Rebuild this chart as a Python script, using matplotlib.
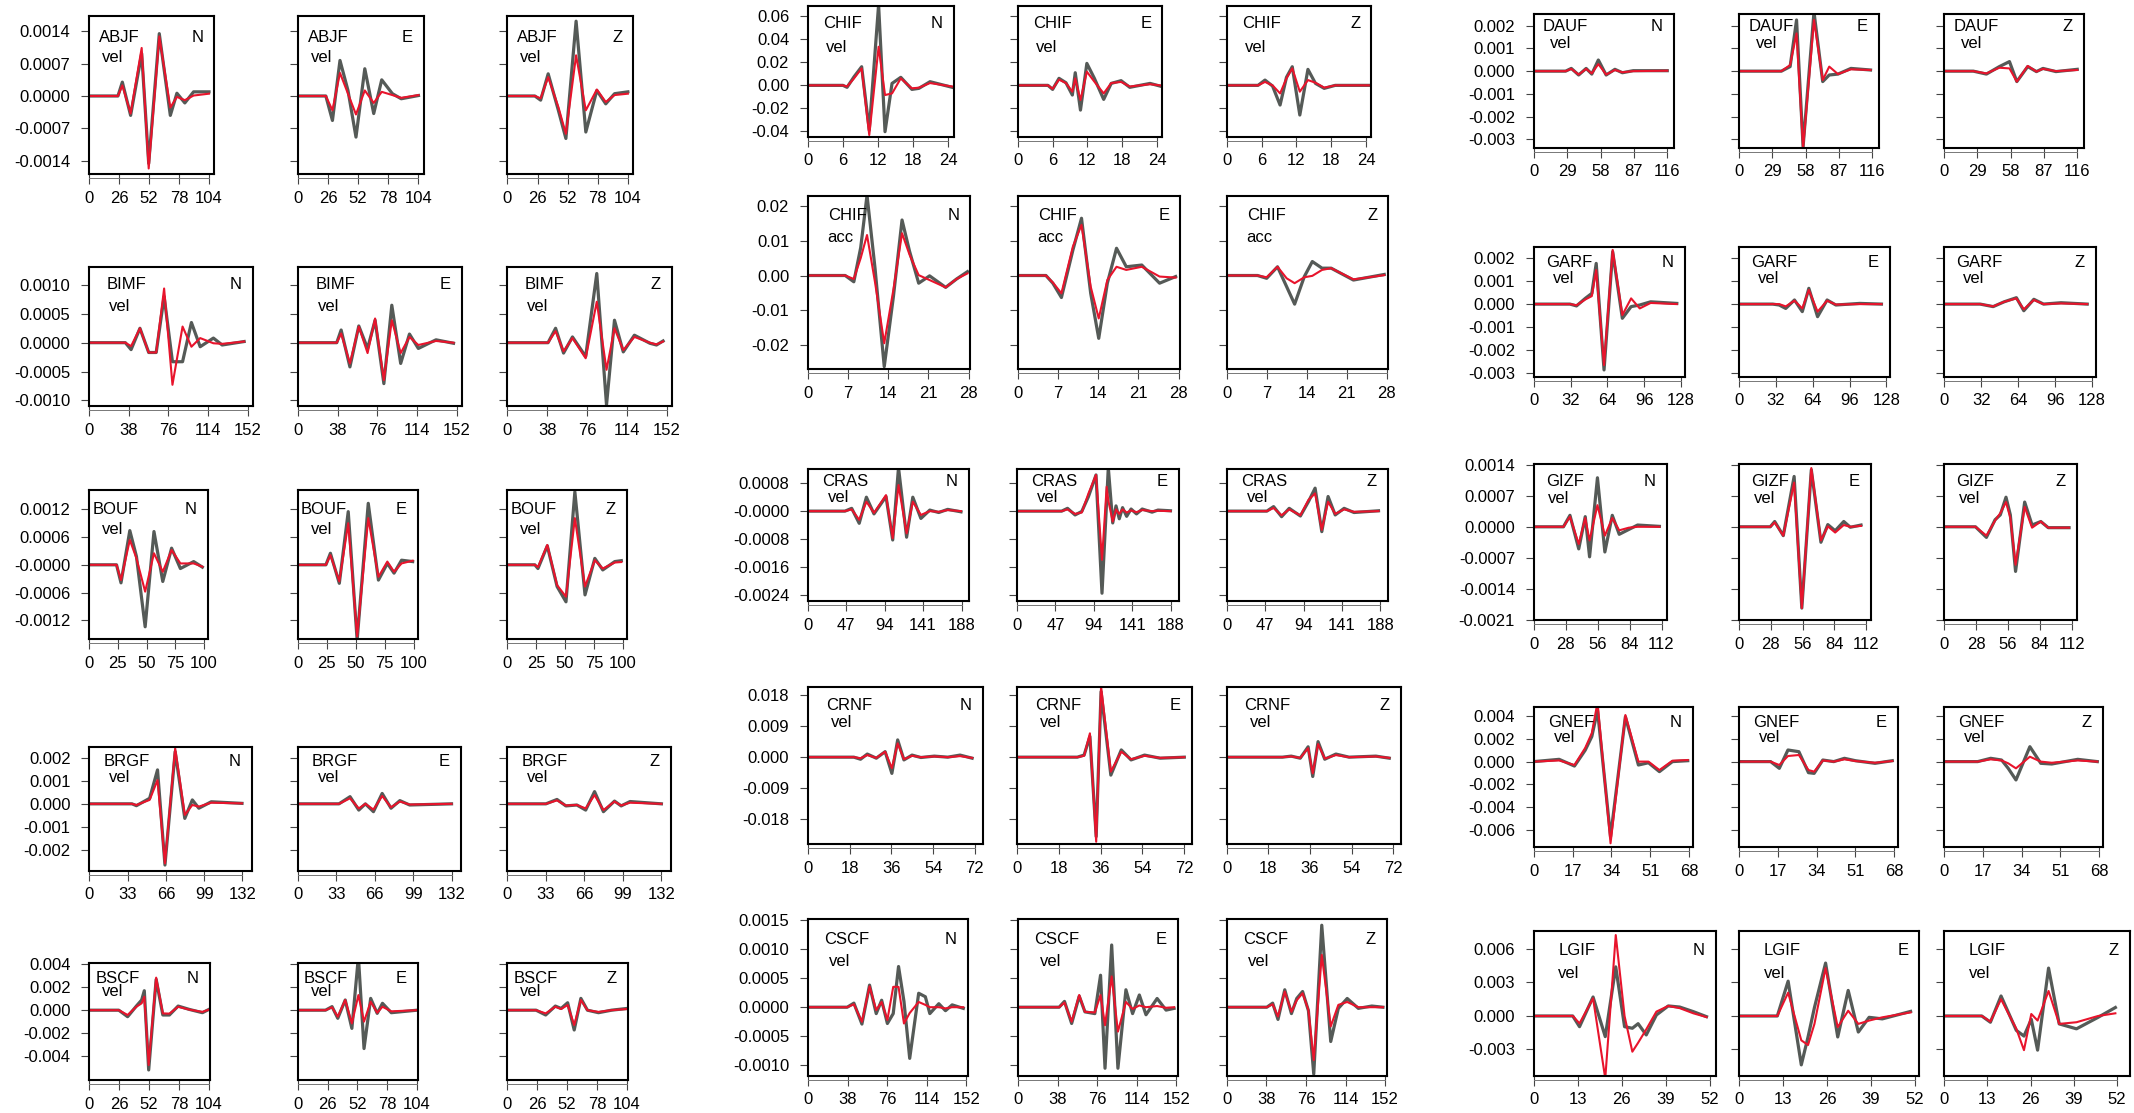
import matplotlib
matplotlib.use("Agg")
import matplotlib.pyplot as plt
from matplotlib.transforms import offset_copy

# --- Config ---
W, H, DPI = 2134, 1113, 100
OBS_COLOR = "#555a57"
SYN_COLOR = "#e8142c"
COMPS = ["N", "E", "Z"]
plt.rcParams["font.family"] = ["Liberation Sans", "DejaVu Sans"]

# --- Waveforms: time (s), observed (grey) and synthetic (red), amplitudes in row unit ---
ABJF_T = {"N": [0, 24.9, 28.7, 35.9, 45.5, 51.6, 60.8, 70.4, 76.1, 83.0, 90.6, 104],
          "E": [0, 24.1, 29.8, 36.3, 43.2, 50.1, 57.7, 65.4, 72.3, 81.5, 89.1, 104],
          "Z": [0, 23.7, 28.7, 35.2, 44.0, 50.5, 59.3, 67.7, 77.2, 84.9, 92.5, 104]}
ABJF_OBS = {"N": [0, 0, 3.0, -4.2, 9.2, -14.6, 13.5, -4.2, 0.6, -1.5, 0.9, 0.9],
            "E": [0, 0, -5.3, 7.7, 1.2, -8.9, 5.9, -3.8, 3.5, 0.5, -0.6, 0.1],
            "Z": [0, 0, -0.9, 4.8, -3.1, -9.2, 16.2, -7.8, 1.2, -1.7, 0.5, 0.9]}
ABJF_SYN = {"N": [0, 0, 2.3, -3.8, 10.4, -15.7, 12.9, -2.5, -0.2, -0.9, 0.1, 0.5],
            "E": [0, 0, -3.1, 5.0, 0.5, -4.0, 1.2, -1.5, 0.9, 0.2, -0.4, 0.2],
            "Z": [0, 0, -0.5, 4.1, -2.4, -8.2, 8.8, -3.1, 1.4, -1.3, 0.2, 0.5]}

BIMF_T = {"N": [0, 34.6, 40.1, 48.6, 57.0, 64.2, 71.8, 79.8, 89.5, 98.0, 106.4, 119.1, 127.5, 148.6],
          "E": [0, 37.2, 41.4, 49.8, 58.3, 66.7, 73.9, 82.3, 89.9, 98.4, 106.8, 115.3, 132.2, 149.0],
          "Z": [0, 38.8, 46.0, 53.6, 62.1, 74.7, 85.3, 94.6, 102.2, 110.6, 121.2, 136.0, 142.3, 148.6]}
BIMF_OBS = {"N": [0, 0, -1.2, 2.5, -1.7, -1.7, 8.0, -3.3, -3.3, 3.5, -0.7, 0.8, -0.4, 0.2],
            "E": [0, 0, 2.2, -4.2, 2.9, -1.0, 3.9, -7.1, 6.5, -3.6, 1.5, -1.0, 0.5, -0.1],
            "Z": [0, 0, 2.5, -1.8, 1.0, -2.4, 12.0, -10.8, 3.9, -1.6, 1.3, -0.1, -0.4, 0.3]}
BIMF_SYN = {"N": [0, 0, -0.6, 2.5, -1.7, -1.7, 9.4, -7.3, 2.8, -0.7, 0.8, -0.1, -0.2, 0.2],
            "E": [0, 0, 1.6, -3.6, 2.8, -1.8, 4.2, -6.5, 3.9, -1.8, 1.0, -0.4, 0.3, 0],
            "Z": [0, 0, 2.0, -1.5, 0.8, -2.7, 7.1, -4.7, 2.5, -1.3, 1.0, 0, -0.3, 0.2]}

BOUF_T = {"N": [0, 23.8, 27.7, 35.4, 41.2, 48.8, 56.5, 64.2, 71.9, 79.6, 91.2, 98.8],
          "E": [0, 24.2, 28.1, 35.8, 43.5, 51.2, 60.8, 69.6, 77.3, 83.1, 89.6, 99.2],
          "Z": [0, 23.8, 26.5, 34.6, 43.1, 50.8, 58.5, 67.3, 75.8, 82.7, 93.1, 98.8]}
BOUF_OBS = {"N": [0, 0, -3.9, 7.4, 1.8, -13.4, 7.2, -3.6, 3.6, -0.8, 0.7, -0.5],
            "E": [0, 0, 2.5, -4.0, 11.5, -16.3, 13.3, -3.3, 0.3, -1.8, 1.0, 0.7],
            "Z": [0, 0, -0.8, 4.1, -4.7, -8.0, 15.8, -6.5, 1.4, -1.1, 0.7, 0.9]}
BOUF_SYN = {"N": [0, 0, -3.3, 5.4, 1.4, -5.8, 2.5, -1.5, 3.2, 0.3, 0.3, -0.4],
            "E": [0, 0, 2.1, -3.6, 9.0, -15.5, 10.1, -2.6, 0.7, -1.5, 0.3, 0.9],
            "Z": [0, 0, -0.5, 4.3, -4.4, -6.9, 10.1, -4.7, 1.0, -0.8, 0.5, 0.6]}

BRGF_T = {"N": [0, 36.8, 40.6, 52.0, 58.8, 65.2, 74.0, 82.3, 88.8, 94.4, 105.1, 131.6],
          "E": [0, 35.3, 44.8, 52.3, 58.0, 64.9, 72.4, 80.0, 87.6, 96.0, 132],
          "Z": [0, 33.0, 42.5, 50.1, 59.5, 67.1, 74.7, 82.3, 91.8, 97.5, 105.1, 132]}
BRGF_OBS = {"N": [0, 0, -0.08, 0.24, 1.47, -2.65, 2.26, -0.63, 0.17, -0.19, 0.09, 0.02],
            "E": [0, 0, 0.31, -0.27, 0, -0.34, 0.45, -0.19, 0.14, -0.05, 0],
            "Z": [0, 0, 0.19, -0.09, -0.05, -0.27, 0.53, -0.34, 0.12, -0.09, 0.1, 0]}
BRGF_SYN = {"N": [0, 0, -0.05, 0.17, 1.03, -2.58, 2.40, -0.48, -0.05, -0.12, 0.05, 0.02],
            "E": [0, 0, 0.24, -0.2, 0, -0.25, 0.34, -0.15, 0.1, -0.03, 0],
            "Z": [0, 0, 0.15, -0.07, -0.05, -0.2, 0.38, -0.27, 0.1, -0.07, 0.05, 0]}

BSCF_T = {"N": [0, 25.6, 33.3, 40.9, 45.5, 47.8, 51.6, 58.1, 63.9, 69.6, 77.2, 86.8, 98.3, 104],
          "E": [0, 24.1, 29.8, 34.8, 41.3, 47.1, 52.8, 57.7, 63.5, 69.2, 73.8, 81.5, 104],
          "Z": [0, 24.9, 33.3, 41.7, 46.7, 52.4, 58.1, 63.9, 69.6, 79.2, 90.6, 104]}
BSCF_OBS = {"N": [0, 0, -0.57, 0.36, 0.89, 1.70, -5.22, 2.69, -0.42, -0.42, 0.36, 0.07, -0.22, 0.07],
            "E": [0, 0, 0.31, -0.71, 0.89, -1.59, 4.67, -3.35, 1.03, -0.28, 0.6, -0.22, 0],
            "Z": [0, 0, -0.42, 0.36, 0.15, 0.65, -1.73, 1.03, 0, -0.22, 0, 0.15]}
BSCF_SYN = {"N": [0, 0, -0.42, 0.3, 0.6, 1.18, -4.79, 2.84, -0.28, -0.3, 0.3, 0.05, -0.15, 0.05],
            "E": [0, 0, 0.25, -0.57, 0.89, -1.15, 1.32, -1.0, 0.74, -0.22, 0.3, -0.1, 0],
            "Z": [0, 0, -0.28, 0.3, 0.1, 0.45, -1.3, 0.89, 0, -0.15, 0, 0.1]}

CHIFV_T = {"N": [0, 6.0, 6.7, 7.9, 9.2, 10.5, 12.1, 13.2, 14.4, 15.9, 17.8, 19.0, 20.9, 24.7],
           "E": [0, 5.2, 6.0, 7.1, 8.3, 9.4, 9.9, 10.8, 11.9, 13.2, 14.8, 16.1, 17.8, 19.3, 22.8, 24.5],
           "Z": [0, 5.4, 6.6, 7.9, 9.2, 10.3, 11.3, 12.6, 14.0, 15.3, 16.8, 18.7, 24.5]}
CHIFV_OBS = {"N": [0, 0, -0.17, 0.75, 1.62, -3.9, 7.0, -4.03, 0.17, 0.7, -0.35, -0.26, 0.32, -0.17],
             "E": [0, 0, -0.35, 0.61, 0.23, -0.84, 1.10, -2.15, 1.91, 0.61, -1.22, 0.17, 0.41, -0.17, 0.17, -0.06],
             "Z": [0, 0, 0.46, -0.06, -1.71, 0.70, 1.62, -2.58, 1.39, 0.17, -0.26, 0, 0]}
CHIFV_SYN = {"N": [0, 0, -0.1, 0.61, 1.48, -4.32, 3.36, -0.84, -0.7, 0.61, -0.26, -0.2, 0.2, -0.1],
             "E": [0, 0, -0.3, 0.5, 0.2, -0.55, 0.61, -1.28, 1.19, 0.32, -0.7, 0.2, 0.3, -0.1, 0.1, 0],
             "Z": [0, 0, 0.3, 0, -0.70, 0.61, 1.48, -0.55, 0.46, 0.23, -0.2, 0, 0]}

CHIFA_T = {"N": [0, 6.5, 8.0, 9.2, 10.3, 11.7, 13.3, 14.9, 16.4, 17.7, 19.3, 21.2, 24.0, 25.9, 27.8],
           "E": [0, 4.9, 6.1, 7.6, 9.6, 11.1, 12.7, 14.1, 15.6, 17.2, 18.9, 21.6, 24.7, 27.5],
           "Z": [0, 5.4, 7.0, 8.9, 10.5, 11.9, 13.6, 15.0, 16.7, 18.3, 22.2, 27.6]}
CHIFA_OBS = {"N": [0, 0, -0.18, 0.8, 2.3, 0.2, -2.61, -0.6, 1.59, 0.7, -0.22, -0.01, -0.34, -0.1, 0.11],
             "E": [0, 0, -0.22, -0.63, 0.73, 1.64, -0.51, -1.80, -0.22, 0.78, 0.25, 0.30, -0.22, -0.03],
             "Z": [0, 0, -0.08, 0.25, -0.32, -0.82, -0.03, 0.40, 0.21, 0.21, -0.13, 0.03]}
CHIFA_SYN = {"N": [0, 0, -0.1, 0.5, 1.16, -0.2, -1.94, -0.4, 1.21, 0.6, 0.01, -0.13, -0.34, -0.1, 0.06],
             "E": [0, 0, -0.2, -0.51, 0.83, 1.45, -0.32, -1.23, -0.13, 0.25, 0.16, 0.25, -0.03, -0.06],
             "Z": [0, 0, -0.05, 0.25, -0.08, -0.22, -0.05, -0.01, 0.16, 0.21, -0.11, 0.01]}

CRAS_T = {"N": [0, 45.4, 53.6, 62.8, 71.6, 80.9, 95.6, 103.8, 110.9, 120.8, 128.4, 138.3, 149.2, 160.1, 171.1, 187.4],
          "E": [0, 54.7, 61.8, 71.0, 79.2, 87.4, 96.6, 103.9, 109.6, 111.6, 117.0, 121.0, 125.0, 129.0,
                134.0, 139.4, 146.0, 153.0, 165.0, 172.2, 187.5],
          "Z": [0, 49.2, 57.4, 67.2, 76.5, 90.2, 100.0, 108.2, 116.4, 124.1, 132.8, 143.7, 155.8, 185.8]}
CRAS_OBS = {"N": [0, 0, 0.8, -3.5, 4.0, -0.8, 4.2, -8.3, 12.5, -7.5, 4.0, -2.1, 0.3, -0.4, 0.5, -0.2],
            "E": [0, 0, 0.8, -1.1, -0.1, 4.2, 10.4, -23.6, 3.0, 12.5, -3.4, 1.5, -2.2, 1.0,
                  -1.5, 0.6, -0.8, 0.6, -0.3, 0.3, 0.1],
            "Z": [0, 0, 1.3, -1.6, 0.8, -1.4, 2.7, 6.6, -5.9, 4.2, -1.1, 0.8, -0.4, 0.1]}
CRAS_SYN = {"N": [0, 0, 0.5, -2.5, 2.7, -0.5, 4.6, -7.8, 7.5, -6.4, 2.7, -1.1, 0, -0.2, 0.3, 0],
            "E": [0, 0, 0.5, -0.8, -0.4, 5.1, 10.4, -14.0, 7.0, 3.0, -3.0, 0.5, -0.8, 0.5,
                  -0.4, 0.2, -0.3, 0.3, 0, 0.1, 0],
            "Z": [0, 0, 0.9, -1.2, 0.5, -1.2, 3.2, 5.1, -5.4, 2.7, -0.8, 0.5, -0.2, 0]}

CRNF_T = {"N": [0, 19.8, 22.7, 25.6, 29.5, 33.3, 36.2, 38.7, 41.4, 44.9, 48.7, 54.5, 60.3, 65.6, 70.8],
          "E": [0, 26.0, 28.9, 31.4, 34.1, 36.2, 40.4, 44.9, 49.1, 54.9, 61.6, 72],
          "Z": [0, 24.1, 27.9, 31.8, 35.2, 37.2, 39.5, 42.4, 47.2, 52.9, 64.5, 70.3]}
CRNF_OBS = {"N": [0, 0, -0.6, 0.9, -0.3, 1.6, -4.7, 5.0, -0.8, 0.6, -0.1, 0.3, 0, 0.6, -0.3],
            "E": [0, 0, 0.6, 6.0, -23.0, 19.0, -5.2, 2.1, -0.8, 0.6, -0.3, 0],
            "Z": [0, 0, 0.3, -0.3, 3.0, -5.6, 4.5, -0.6, 0.9, 0, 0.3, -0.3]}
CRNF_SYN = {"N": [0, 0, -0.3, 0.6, -0.2, 1.6, -3.2, 4.0, -0.6, 0.4, 0, 0.2, 0, 0.3, -0.2],
            "E": [0, 0, 0.4, 6.9, -24.5, 20.5, -4.2, 1.6, -0.6, 0.4, -0.2, 0],
            "Z": [0, 0, 0.2, -0.2, 2.6, -4.7, 3.8, -0.4, 0.6, 0, 0.2, -0.2]}

CSCF_T = {"N": [0, 37.7, 44.1, 51.8, 59.1, 65.5, 70.7, 76.2, 81.8, 86.9, 92.1, 97.6, 106.2, 112.6, 116.9,
                125.5, 131.9, 138.3, 149.0],
          "E": [0, 39.4, 44.5, 51.4, 58.7, 64.2, 73.7, 79.2, 83.5, 89.9, 95.9, 103.6, 110.0, 116.5, 122.9,
                133.6, 142.2, 149.9],
          "Z": [0, 38.5, 44.1, 49.2, 55.7, 62.1, 67.2, 72.8, 78.4, 83.5, 91.2, 99.8, 107.1, 115.6, 126.3,
                139.2, 149.9]}
CSCF_OBS = {"N": [0, 0, 0.7, -2.9, 3.8, -1.1, 1.2, -2.8, -1.1, 7.0, 1.0, -8.8, 2.4, 1.8, -1.1, 0.6, -0.6, 0.4, -0.2],
            "E": [0, 0, 1.0, -2.8, 1.9, -0.8, -1.1, 5.5, -10.5, 10.7, -10.5, 3.0, -1.1, 2.1, -1.3, 1.5, -0.5, -0.2],
            "Z": [0, 0, 0.7, -2.1, 3.0, -1.1, 1.5, 2.7, -0.6, -11.5, 14.1, -5.9, -0.2, 1.5, -0.2, 0.2, 0]}
CSCF_SYN = {"N": [0, 0, 0.5, -2.5, 3.6, -0.5, 0.9, -2.2, 3.5, 3.5, -2.8, -1.0, 0.9, 0.4, 0, 0, -0.2, 0, 0],
            "E": [0, 0, 0.8, -2.5, 2.1, -0.8, -0.9, 2.1, -3.1, 5.3, -4.2, 0.9, -0.3, 0.3, 0, 0.2, -0.1, 0],
            "Z": [0, 0, 0.5, -1.6, 2.7, -0.8, 1.2, 2.4, -0.5, -9.1, 9.0, -3.3, 0.4, 0.9, 0, 0, 0]}

DAUF_T = {"N": [0, 27.7, 32.6, 39.0, 45.5, 50.4, 56.1, 62.9, 70.5, 77.0, 86.4, 116],
          "E": [0, 36.8, 44.4, 50.0, 55.7, 65.2, 72.8, 78.5, 86.1, 97.4, 114.5],
          "Z": [0, 25.4, 36.8, 48.1, 56.9, 63.3, 72.8, 80.4, 86.1, 97.4, 116]}
DAUF_OBS = {"N": [0, 0, 0.12, -0.17, 0.12, -0.13, 0.49, -0.17, 0.08, -0.07, 0.02, 0.02],
            "E": [0, 0, 0.2, 2.25, -3.32, 2.6, -0.46, -0.17, -0.13, 0.12, 0.05],
            "Z": [0, 0, -0.13, 0.2, 0.42, -0.46, 0.2, -0.02, 0.12, -0.02, 0.08]}
DAUF_SYN = {"N": [0, 0, 0.1, -0.15, 0.1, -0.1, 0.31, -0.15, 0.05, -0.05, 0, 0.02],
            "E": [0, 0, 0.27, 1.66, -3.4, 2.25, -0.39, 0.2, -0.13, 0.08, 0.05],
            "Z": [0, 0, -0.1, 0.15, 0.12, -0.46, 0.23, -0.02, 0.1, 0, 0.05]}

GARF_T = {"N": [0, 31.4, 37.1, 44.7, 50.4, 54.2, 61.0, 68.5, 76.9, 84.5, 92.0, 101.5, 124.2],
          "E": [0, 29.2, 34.8, 40.5, 48.1, 54.9, 60.6, 68.2, 76.5, 84.1, 104.9, 123.8],
          "Z": [0, 31.1, 42.4, 51.9, 62.5, 68.9, 77.6, 86.0, 101.1, 123.8]}
GARF_OBS = {"N": [0, 0, -0.08, 0.25, 0.47, 1.78, -2.88, 2.29, -0.62, -0.11, -0.04, 0.1, 0.03],
            "E": [0, 0, -0.04, -0.19, 0.18, -0.33, 0.69, -0.55, 0.18, -0.04, 0.03, 0],
            "Z": [0, 0, -0.11, 0.1, 0.28, -0.29, 0.21, 0, 0.06, 0]}
GARF_SYN = {"N": [0, 0, -0.05, 0.2, 0.35, 1.49, -2.67, 2.37, -0.48, 0.25, -0.19, 0.05, 0],
            "E": [0, 0, 0, -0.1, 0.15, -0.19, 0.62, -0.33, 0.15, -0.02, 0, 0],
            "Z": [0, 0, -0.1, 0.1, 0.25, -0.23, 0.18, 0, 0.03, 0]}

GIZF_T = {"N": [0, 26.0, 31.7, 39.4, 45.1, 48.9, 55.8, 62.3, 68.8, 74.9, 83.3, 91.0, 110.1],
          "E": [0, 27.5, 31.4, 39.0, 48.6, 55.4, 63.8, 72.3, 78.4, 84.9, 92.5, 98.3, 107.8],
          "Z": [0, 27.5, 37.1, 44.7, 49.3, 54.3, 58.1, 62.7, 70.7, 77.2, 84.9, 91.4, 109.7]}
GIZF_OBS = {"N": [0, 0, 2.6, -5.0, 2.3, -6.8, 11.1, -5.7, 2.6, -1.7, -0.6, 0.4, 0.1],
            "E": [0, 0, 1.2, -2.0, 11.4, -18.4, 12.9, -3.5, 0.5, -0.9, 1.2, -0.1, 0.4],
            "Z": [0, 0, -2.4, 1.6, 2.7, 6.7, 2.7, -10.1, 5.6, 0.4, 1.2, -0.2, -0.2]}
GIZF_SYN = {"N": [0, 0, 2.3, -3.9, 2.0, -3.1, 4.9, -2.0, 2.0, -0.8, -0.2, 0, 0],
            "E": [0, 0, 1.0, -2.0, 10.0, -18.4, 13.3, -3.1, 0.1, -1.3, 0.4, 0, 0.2],
            "Z": [0, 0, -2.0, 1.4, 3.1, 5.6, 2.0, -8.6, 4.5, -0.2, 1.2, -0.2, -0.2]}

GNEF_T = {"N": [0, 11.1, 17.8, 22.5, 25.4, 27.9, 33.6, 40.1, 45.8, 50.2, 55.0, 60.7, 67.4],
          "E": [0, 13.8, 17.6, 21.4, 26.2, 30.4, 32.9, 36.7, 41.5, 46.2, 51.0, 59.6, 67.2],
          "Z": [0, 14.7, 20.4, 25.2, 28.1, 31.5, 37.6, 42.4, 47.2, 58.6, 67.2]}
GNEF_OBS = {"N": [0, 0.2, -0.39, 1.0, 2.2, 4.5, -6.6, 3.94, -0.3, -0.1, -0.88, 0, 0.08],
            "E": [0, 0, -0.59, 1.02, 0.87, -0.97, -1.03, 0.14, 0, 0.29, 0.08, -0.15, 0.08],
            "Z": [0, 0, 0.29, 0.14, -0.59, -1.61, 1.31, -0.15, -0.21, 0.2, 0]}
GNEF_SYN = {"N": [0, 0.1, -0.3, 1.2, 2.5, 5.2, -7.17, 4.09, 0, 0, -0.74, 0.08, 0.14],
            "E": [0, 0, -0.3, 0.49, 0.58, -0.74, -0.88, 0.1, 0, 0.2, 0.05, -0.1, 0.05],
            "Z": [0, 0, 0.2, 0.1, -0.15, -0.59, 0.43, 0, -0.1, 0.1, 0]}

LGIF_T = {"N": [0, 11.5, 13.5, 17.5, 21.1, 24.2, 26.8, 29.1, 30.8, 33.2, 36.2, 39.7, 43.1, 47.1, 51.0],
          "E": [0, 11.3, 14.5, 18.4, 20.4, 22.3, 25.6, 29.2, 32.3, 35.3, 38.5, 42.4, 50.8],
          "Z": [0, 11.3, 13.9, 17.1, 21.7, 24.0, 26.2, 28.1, 31.4, 34.6, 39.8, 46.3, 51.5]}
LGIF_OBS = {"N": [0, 0, -0.96, 1.7, -1.85, 4.4, -0.96, -1.1, -0.69, -1.7, 0.09, 0.9, 0.8, 0.39, -0.06],
            "E": [0, 0, 3.12, -4.38, -1.88, 0.76, 4.74, -1.88, 2.29, -1.44, -0.12, -0.26, 0.41],
            "Z": [0, 0, -0.56, 1.79, -1.29, -1.8, -0.3, -3.06, 4.29, -0.71, -1.15, -0.12, 0.76]}
LGIF_SYN = {"N": [0, 0, -0.66, 1.58, -5.6, 7.25, 0, -3.2, -2.4, -1.2, 0.39, 0.9, 0.7, 0.24, -0.1],
            "E": [0, 0, 2.09, -2.18, -2.6, -0.71, 4.29, -1.0, 0.47, -0.71, -0.41, -0.12, 0.32],
            "Z": [0, 0, -0.5, 1.5, -1.15, -3.06, 0.18, -0.41, 2.24, -0.71, -0.56, 0, 0.24]}

# --- Axis ticks per station row ---
XTICKS = {"ABJF": [0, 26, 52, 78, 104], "BIMF": [0, 38, 76, 114, 152], "BOUF": [0, 25, 50, 75, 100],
          "BRGF": [0, 33, 66, 99, 132], "BSCF": [0, 26, 52, 78, 104], "CHIFV": [0, 6, 12, 18, 24],
          "CHIFA": [0, 7, 14, 21, 28], "CRAS": [0, 47, 94, 141, 188], "CRNF": [0, 18, 36, 54, 72],
          "CSCF": [0, 38, 76, 114, 152], "DAUF": [0, 29, 58, 87, 116], "GARF": [0, 32, 64, 96, 128],
          "GIZF": [0, 28, 56, 84, 112], "GNEF": [0, 17, 34, 51, 68], "LGIF": [0, 13, 26, 39, 52]}
YTICKLABELS = {
    "ABJF": ["0.0014", "0.0007", "0.0000", "-0.0007", "-0.0014"],
    "BIMF": ["0.0010", "0.0005", "0.0000", "-0.0005", "-0.0010"],
    "BOUF": ["0.0012", "0.0006", "-0.0000", "-0.0006", "-0.0012"],
    "BRGF": ["0.002", "0.001", "0.000", "-0.001", "-0.002"],
    "BSCF": ["0.004", "0.002", "0.000", "-0.002", "-0.004"],
    "CHIFV": ["0.06", "0.04", "0.02", "0.00", "-0.02", "-0.04"],
    "CHIFA": ["0.02", "0.01", "0.00", "-0.01", "-0.02"],
    "CRAS": ["0.0008", "-0.0000", "-0.0008", "-0.0016", "-0.0024"],
    "CRNF": ["0.018", "0.009", "0.000", "-0.009", "-0.018"],
    "CSCF": ["0.0015", "0.0010", "0.0005", "0.0000", "-0.0005", "-0.0010"],
    "DAUF": ["0.002", "0.001", "0.000", "-0.001", "-0.002", "-0.003"],
    "GARF": ["0.002", "0.001", "0.000", "-0.001", "-0.002", "-0.003"],
    "GIZF": ["0.0014", "0.0007", "0.0000", "-0.0007", "-0.0014", "-0.0021"],
    "GNEF": ["0.004", "0.002", "0.000", "-0.002", "-0.004", "-0.006"],
    "LGIF": ["0.006", "0.003", "0.000", "-0.003"],
}

# row key -> (station, kind, unit, times, obs, syn)
ROWS = {
    "ABJF": ("ABJF", "vel", 1e-4, ABJF_T, ABJF_OBS, ABJF_SYN),
    "BIMF": ("BIMF", "vel", 1e-4, BIMF_T, BIMF_OBS, BIMF_SYN),
    "BOUF": ("BOUF", "vel", 1e-4, BOUF_T, BOUF_OBS, BOUF_SYN),
    "BRGF": ("BRGF", "vel", 1e-3, BRGF_T, BRGF_OBS, BRGF_SYN),
    "BSCF": ("BSCF", "vel", 1e-3, BSCF_T, BSCF_OBS, BSCF_SYN),
    "CHIFV": ("CHIF", "vel", 1e-2, CHIFV_T, CHIFV_OBS, CHIFV_SYN),
    "CHIFA": ("CHIF", "acc", 1e-2, CHIFA_T, CHIFA_OBS, CHIFA_SYN),
    "CRAS": ("CRAS", "vel", 1e-4, CRAS_T, CRAS_OBS, CRAS_SYN),
    "CRNF": ("CRNF", "vel", 1e-3, CRNF_T, CRNF_OBS, CRNF_SYN),
    "CSCF": ("CSCF", "vel", 1e-4, CSCF_T, CSCF_OBS, CSCF_SYN),
    "DAUF": ("DAUF", "vel", 1e-3, DAUF_T, DAUF_OBS, DAUF_SYN),
    "GARF": ("GARF", "vel", 1e-3, GARF_T, GARF_OBS, GARF_SYN),
    "GIZF": ("GIZF", "vel", 1e-4, GIZF_T, GIZF_OBS, GIZF_SYN),
    "GNEF": ("GNEF", "vel", 1e-3, GNEF_T, GNEF_OBS, GNEF_SYN),
    "LGIF": ("LGIF", "vel", 1e-3, LGIF_T, LGIF_OBS, LGIF_SYN),
}

# --- Layout (pixels): top, bottom, lefts, rights, x max per panel, y limits, label offsets ---
C1 = [89.3, 297.9, 507.4]
C2 = [807.9, 1017.8, 1226.7]
C3 = [1533.8, 1739.2, 1944.2]
LAYOUT = {
    "ABJF": dict(tb=(16, 174), l=C1, r=[214.3, 423.8, 633.2], xmax=[108.6] * 3, ylim=(-1.689e-3, 1.732e-3), lab=(9.7, 21, 12.8, 41)),
    "BIMF": dict(tb=(266.7, 406), l=C1, r=[253.0, 462.0, 672.0], xmax=[157.1] * 3, ylim=(-1.098e-3, 1.318e-3), lab=(17.6, 18.3, 19.8, 40)),
    "BOUF": dict(tb=(490, 639), l=C1, r=[208.1, 418.0, 627.1], xmax=[103.8] * 3, ylim=(-1.604e-3, 1.618e-3), lab=(3, 20, 12.8, 39)),
    "BRGF": dict(tb=(747.3, 870.7), l=C1, r=[252.1, 461.2, 671.1], xmax=[140.3] * 3, ylim=(-2.895e-3, 2.448e-3), lab=(14, 14.7, 19.8, 30.7)),
    "BSCF": dict(tb=(962.7, 1080), l=C1, r=[209.9, 418.0, 627.9], xmax=[104.8] * 3, ylim=(-6.095e-3, 4.145e-3), lab=(6, 15.6, 12.8, 28.6)),
    "CHIFV": dict(tb=(5.7, 136.7), l=C2, r=[953.5, 1162.4, 1371.3], xmax=[24.92] * 3, ylim=(-0.04464, 0.06928), lab=(15.6, 18.3, 17.9, 41.3)),
    "CHIFA": dict(tb=(195.7, 369), l=C2, r=[970.4, 1180.3, 1388.3], xmax=[28.31] * 3, ylim=(-0.02678, 0.02286), lab=(20, 20.3, 19.2, 41.6)),
    "CRAS": dict(tb=(469.3, 601.3), l=[807.9, 1016.9, 1226.7], r=[969.1, 1178.5, 1387.9], xmax=[197.3] * 3, ylim=(-2.592e-3, 1.202e-3), lab=(14.7, 12.5, 20, 28)),
    "CRNF": dict(tb=(686.7, 844.3), l=[807.9, 1016.9, 1226.7], r=[982.5, 1191.9, 1400.8], xmax=[75.27] * 3, ylim=(-0.02524, 0.02041), lab=(17.9, 18.3, 22.8, 36)),
    "CSCF": dict(tb=(919, 1075.7), l=[807.9, 1018.2, 1226.7], r=[967.8, 1177.6, 1386.5], xmax=[153.3] * 3, ylim=(-1.178e-3, 1.517e-3), lab=(16, 20.3, 21.4, 42.7)),
    "DAUF": dict(tb=(14, 147.7), l=C3, r=[1673.8, 1878.8, 2083.8], xmax=[121.7] * 3, ylim=(-3.367e-3, 2.513e-3), lab=(9.2, 12.7, 16.6, 29.3)),
    "GARF": dict(tb=(246.7, 376.7), l=C3, r=[1685.1, 1890.2, 2096.0], xmax=[131.4] * 3, ylim=(-3.175e-3, 2.51e-3), lab=(12.2, 15.6, 18.8, 31.6)),
    "GIZF": dict(tb=(464.3, 620), l=C3, r=[1666.8, 1871.0, 2076.9], xmax=[116.6] * 3, ylim=(-2.11e-3, 1.415e-3), lab=(12.2, 16.7, 14.4, 34)),
    "GNEF": dict(tb=(706.7, 847.3), l=C3, r=[1693.0, 1898.0, 2103.0], xmax=[69.7] * 3, ylim=(-7.52e-3, 4.819e-3), lab=(14.4, 16, 20, 31)),
    "LGIF": dict(tb=(930.7, 1075.7), l=C3, r=[1716.0, 1919.4, 2130.0], xmax=[53.8, 53.4, 55.9], ylim=(-5.35e-3, 7.64e-3), lab=(24.4, 19.3, 24.4, 42.6)),
}

fig = plt.figure(figsize=(W / DPI, H / DPI), dpi=DPI)
fig.patch.set_facecolor("white")

for key, (station, kind, unit, times, obs, syn) in ROWS.items():
    lay = LAYOUT[key]
    top, bot = lay["tb"]
    name_dx, name_dy, kind_dx, kind_dy = lay["lab"]
    yt_labels = YTICKLABELS[key]
    yt_values = [float(s) for s in yt_labels]
    for i, comp in enumerate(COMPS):
        left, right = lay["l"][i], lay["r"][i]
        wpx, hpx = right - left, bot - top
        ax = fig.add_axes([left / W, 1 - bot / H, wpx / W, hpx / H])
        ax.plot(times[comp], [v * unit for v in obs[comp]], color=OBS_COLOR, lw=2.3,
                solid_joinstyle="round")
        ax.plot(times[comp], [v * unit for v in syn[comp]], color=SYN_COLOR, lw=1.5,
                solid_joinstyle="round")
        ax.set_xlim(0, lay["xmax"][i])
        ax.set_ylim(*lay["ylim"])

        ax.set_xticks(XTICKS[key])
        ax.set_xticklabels([str(x) for x in XTICKS[key]])
        ax.set_yticks(yt_values)
        ax.set_yticklabels(yt_labels if i == 0 else [])
        ax.tick_params(axis="x", direction="out", length=7, width=0.8, pad=5, labelsize=12, color="#444444")
        ax.tick_params(axis="y", direction="out", length=5.5, width=0.8, pad=8, labelsize=12, color="#444444")
        for sp in ax.spines.values():
            sp.set_linewidth(1.5)
            sp.set_color("black")

        # thin offset axis line under the box, like R's axis()
        trans = offset_copy(ax.get_xaxis_transform(), fig=fig, y=-4, units="dots")
        ax.plot([0, XTICKS[key][-1]], [0, 0], transform=trans, color="#777777", lw=0.7, clip_on=False)

        ax.text(name_dx / wpx, 1 - name_dy / hpx, station, transform=ax.transAxes,
                ha="left", va="center", fontsize=12)
        ax.text(kind_dx / wpx, 1 - kind_dy / hpx, kind, transform=ax.transAxes,
                ha="left", va="center", fontsize=12)
        ax.text(1 - 11 / wpx, 1 - name_dy / hpx, comp, transform=ax.transAxes,
                ha="right", va="center", fontsize=12)

fig.savefig("out.png", dpi=DPI)
print("saved out.png")
